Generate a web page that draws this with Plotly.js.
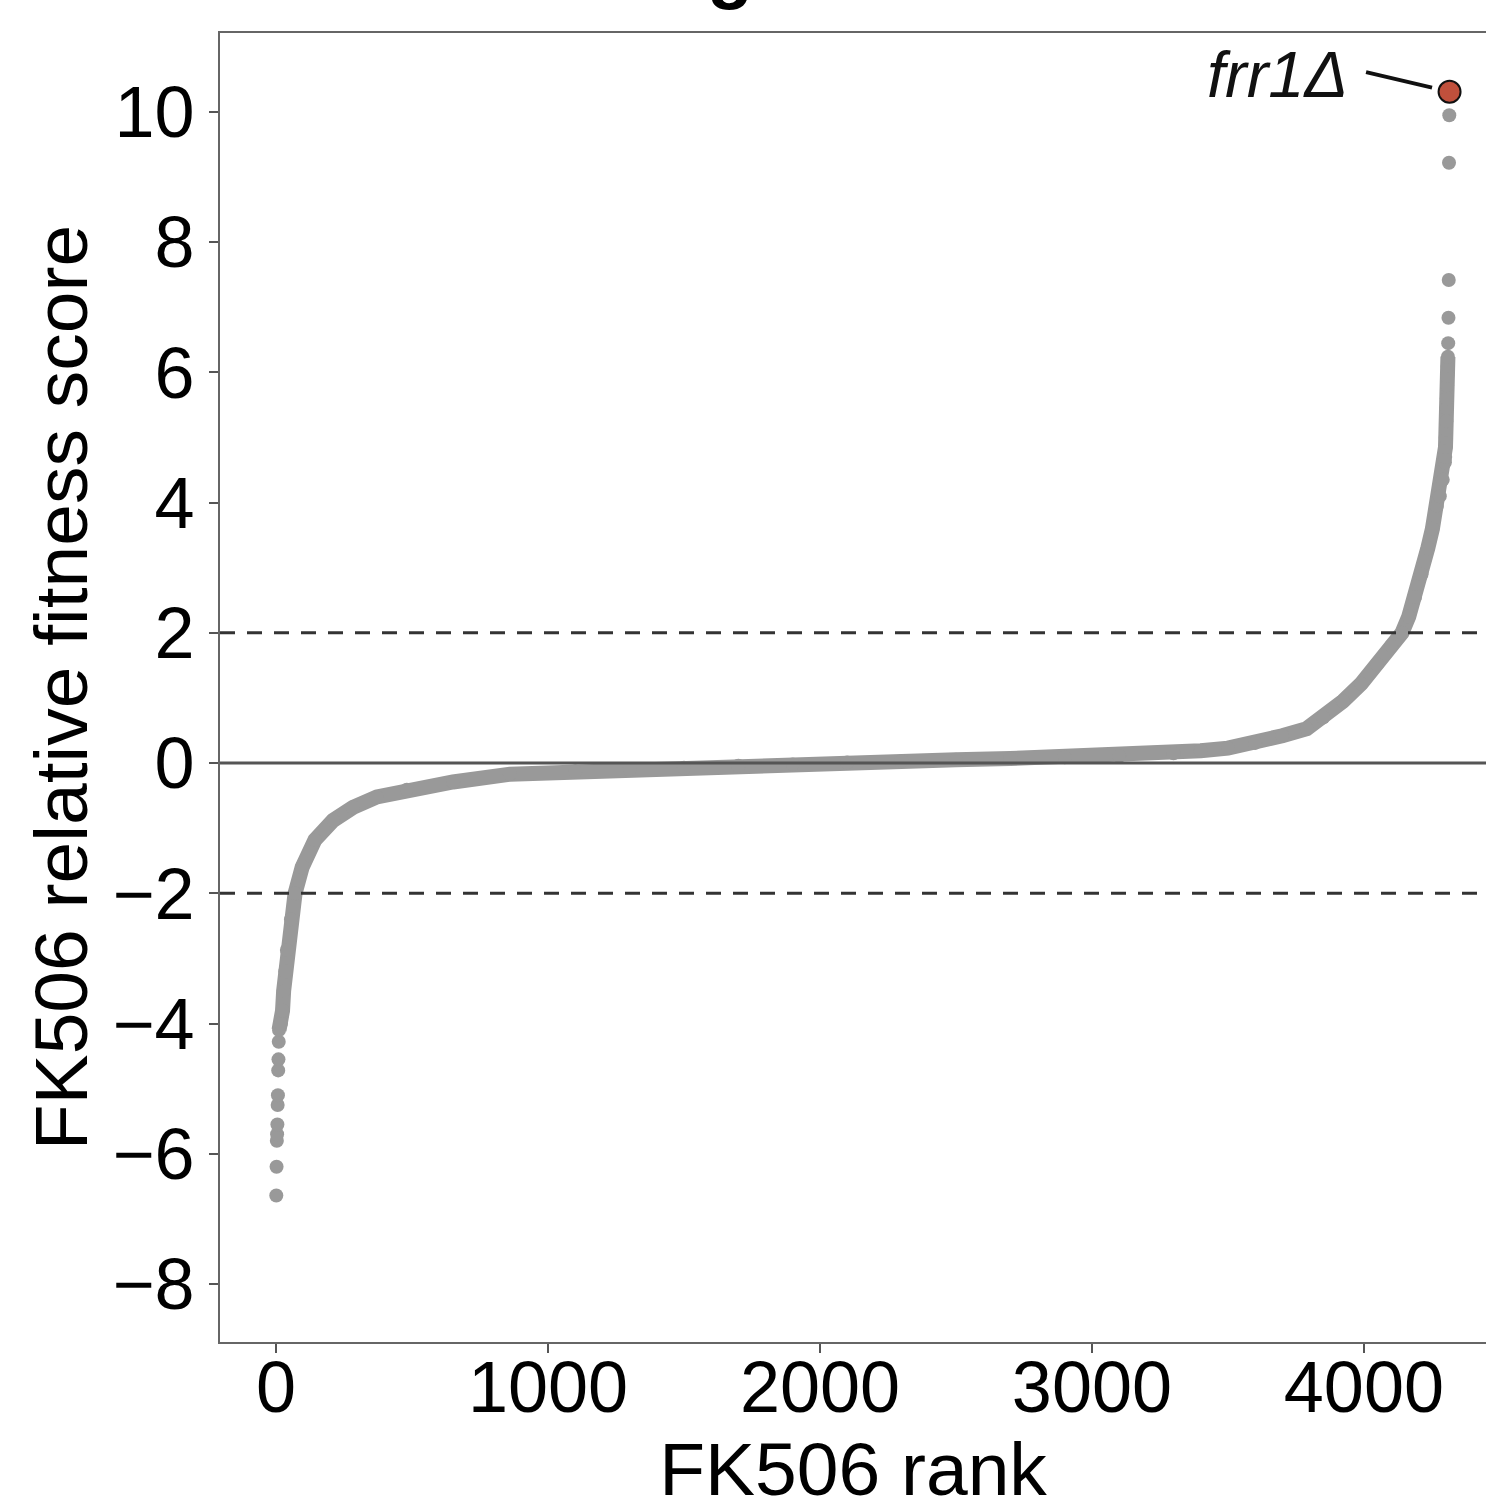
<!DOCTYPE html>
<html>
<head>
<meta charset="utf-8">
<script src="https://cdn.plot.ly/plotly-3.0.1.min.js"></script>
<style>html,body{margin:0;padding:0;background:#fff;}#chart{width:1486px;height:1511px;}</style>
</head>
<body>
<div id="chart"></div>
<script>
// Ranked relative fitness scores
const tailLowRank  = [1, 2, 3, 4, 5, 6, 7, 8, 9, 10];
const tailLowScore = [-6.64, -6.20, -5.80, -5.70, -5.55, -5.25, -5.10, -4.72, -4.55, -4.28];

const curveRank  = [11, 18, 24, 28, 34, 40, 55, 70, 96, 143, 210, 283, 371, 481, 651, 860,
                    1100, 1300, 1500, 1700, 1900, 2100, 2300, 2500, 2700, 2900, 3100, 3300, 3400,
                    3500, 3600, 3700, 3790, 3850, 3923, 3990, 4048, 4100, 4140, 4165, 4188, 4212, 4235, 4252,
                    4268, 4279, 4290, 4298, 4299, 4300, 4301, 4302, 4303, 4304, 4305, 4306, 4307, 4308, 4309];
const curveScore = [-4.10, -4.00, -3.80, -3.50, -3.20, -2.87, -2.40, -2.00, -1.60, -1.18, -0.88, -0.68, -0.52, -0.41, -0.29, -0.17,
                    -0.13, -0.10, -0.07, -0.04, -0.02, 0.01, 0.03, 0.05, 0.07, 0.09, 0.11, 0.15, 0.19,
                    0.23, 0.31, 0.42, 0.53, 0.70, 0.95, 1.22, 1.52, 1.80, 2.00, 2.25, 2.55, 2.90, 3.30, 3.60,
                    3.95, 4.10, 4.35, 4.62, 4.70, 4.85, 5.00, 5.12, 5.25, 5.45, 5.60, 5.80, 5.95, 6.10, 6.24];

const tailHighRank  = [4310, 4311, 4312, 4313, 4314];
const tailHighScore = [6.45, 6.84, 7.42, 9.22, 9.95];

const hitName  = ['frr1Δ'];
const hitRank  = [4315];
const hitScore = [10.31];

const thresholds = [2, -2];
const zeroLevel = [0];

const xTicks = [0, 1000, 2000, 3000, 4000];
const yTicks = [-8, -6, -4, -2, 0, 2, 4, 6, 8, 10];

const titleText = 'Drug resistance';
const xTitle = 'FK506 rank';
const yTitle = 'FK506 relative fitness score';

const grey = '#999999';
const FONT = 'Liberation Sans, Arial, sans-serif';

const traces = [
  {x: tailLowRank, y: tailLowScore, mode: 'markers', type: 'scatter',
   marker: {color: grey, size: 14}, hoverinfo: 'skip'},
  {x: curveRank, y: curveScore, mode: 'lines+markers', type: 'scatter',
   line: {color: grey, width: 15}, marker: {color: grey, size: 14}, hoverinfo: 'skip'},
  {x: tailHighRank, y: tailHighScore, mode: 'markers', type: 'scatter',
   marker: {color: grey, size: 14}, hoverinfo: 'skip'},
  {x: hitRank, y: hitScore, mode: 'markers', type: 'scatter',
   marker: {color: '#c0503c', size: 22, line: {color: '#111', width: 2}}, hoverinfo: 'skip'}
];

const shapes = [];
zeroLevel.forEach(v => shapes.push({type: 'line', xref: 'paper', x0: 0, x1: 1, yref: 'y', y0: v, y1: v,
  line: {color: '#555555', width: 3}}));
thresholds.forEach(v => shapes.push({type: 'line', xref: 'paper', x0: 0, x1: 1, yref: 'y', y0: v, y1: v,
  line: {color: '#333333', width: 3, dash: '15px,12px'}}));

const annotations = [
  {xref: 'paper', yref: 'paper', x: 0.507, y: 1.0153, xanchor: 'center', yanchor: 'bottom',
   text: '<b>' + titleText + '</b>', showarrow: false, font: {family: FONT, size: 75, color: '#000'}},
  {x: hitRank[0], y: hitScore[0], xref: 'x', yref: 'y', text: '<i>' + hitName[0] + '</i>',
   showarrow: false, xanchor: 'right', yanchor: 'middle', xshift: -100, yshift: 17,
   font: {family: FONT, size: 65, color: '#111'}},
  {x: hitRank[0], y: hitScore[0], xref: 'x', yref: 'y', text: ' ', showarrow: true,
   axref: 'pixel', ayref: 'pixel', ax: -85, ay: -20, arrowhead: 0, arrowwidth: 4, arrowcolor: '#111',
   standoff: 18, font: {size: 1}}
];

const layout = {
  width: 1486, height: 1511,
  margin: {l: 220, r: 0, t: 33, b: 169, pad: 0},
  paper_bgcolor: '#fff', plot_bgcolor: '#fff',
  showlegend: false,
  font: {family: FONT, color: '#000'},
  xaxis: {
    range: [-206, 4449], tickvals: xTicks, ticktext: xTicks.map(String),
    showgrid: false, zeroline: false, showline: true, mirror: true,
    linecolor: '#666666', linewidth: 2, ticks: 'outside', ticklen: 9, tickwidth: 2, tickcolor: '#555555',
    tickfont: {family: FONT, size: 72, color: '#000'}, ticklabelstandoff: -27,
    title: {text: xTitle, font: {family: FONT, size: 75, color: '#000'}, standoff: 0}
  },
  yaxis: {
    range: [-8.891, 11.213], tickvals: yTicks,
    showgrid: false, zeroline: false, showline: true, mirror: false,
    linecolor: '#666666', linewidth: 2, ticks: 'outside', ticklen: 9, tickwidth: 2, tickcolor: '#555555',
    tickfont: {family: FONT, size: 72, color: '#000'}, ticklabelstandoff: 0,
    title: {text: yTitle, font: {family: FONT, size: 75, color: '#000'}, standoff: 0}
  },
  shapes: shapes,
  annotations: annotations
};

Plotly.newPlot('chart', traces, layout, {staticPlot: true, displayModeBar: false});
</script>
</body>
</html>
